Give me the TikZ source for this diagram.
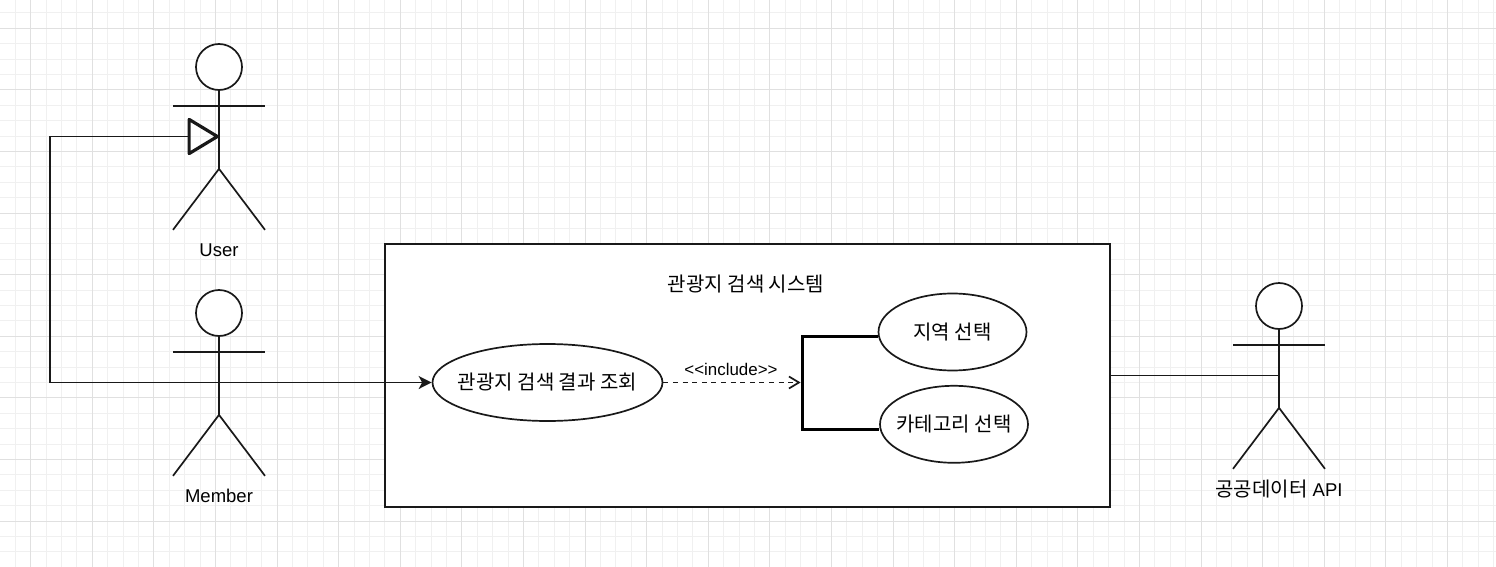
\documentclass[tikz,border=0pt]{standalone}
\usepackage{fontspec}
\setmainfont{Liberation Sans}
\newfontfamily\kr{Noto Sans CJK KR}
\usetikzlibrary{arrows.meta,shapes.geometric,calc}

\tikzset{
  minorgrid/.style={draw=black!6, line width=1pt},
  majorgrid/.style={draw=black!12, line width=1pt},
  actorline/.style={draw=black!90, line width=1.7pt},
  head/.style={circle, draw=black!90, line width=1.7pt, fill=white, minimum size=46pt, inner sep=0pt},
  actorlabel/.style={font=\fontsize{18.5}{22}\selectfont, inner sep=0pt},
  usecase/.style={ellipse, draw=black!90, line width=1.7pt, fill=white, inner sep=0pt},
  uctext/.style={font=\kr\fontsize{20}{24}\selectfont, inner sep=0pt},
  sysbox/.style={rectangle, draw=black!90, line width=1.7pt, fill=white, minimum width=725pt, minimum height=262.7pt, inner sep=0pt},
  genline/.style={draw=black!90, line width=1.7pt, -{Triangle[open, length=33pt, width=39pt, line width=3.2pt, round]}},
  assocline/.style={draw=black!90, line width=1.7pt, -{Stealth[length=13pt, width=13pt, inset=3.5pt]}},
  plainline/.style={draw=black!90, line width=1.7pt},
  includeline/.style={draw=black!90, line width=1.7pt, dash pattern=on 5pt off 4.6pt, -{Straight Barb[length=10pt, width=12pt, line width=1.7pt]}},
  bracketline/.style={draw=black, line width=3.2pt, line join=miter},
  smalllabel/.style={font=\fontsize{16.9}{20}\selectfont, inner sep=0pt}
}

\newcommand\umlactor[4]{%
  \node[head] (#1-head) at (#2,#3) {};
  \coordinate (#1) at (#2,#3+69.5);
  \draw[actorline] (#1-head.south) -- ++(0,78) coordinate (#1-hip);
  \draw[actorline] ($(#1-head)+(-46,39)$) -- ++(92,0);
  \draw[actorline] ($(#1-hip)+(-46,61)$) -- (#1-hip) -- ++(46,61);
  \node[actorlabel] (#1-label) at (#2,#3+183) {#4};
}

\begin{document}
\begin{tikzpicture}[x=1pt,y=-1pt]
\useasboundingbox (0,0) rectangle (1496,567);
\fill[white] (0,0) rectangle (1496,567);
% grid
\foreach \i in {0,...,97} \draw[minorgrid] ({-0.1+15.4*\i},0) -- ++(0,567);
\foreach \j in {0,...,36} \draw[minorgrid] (0,{12.9+15.4*\j}) -- ++(1496,0);
\foreach \i in {0,...,24} \draw[majorgrid] ({30.7+61.6*\i},0) -- ++(0,567);
\foreach \j in {0,...,8} \draw[majorgrid] (0,{28.3+61.6*\j}) -- ++(1496,0);

% system boundary
\node[sysbox] (sys) at (747.5,375.3) {};
\node[uctext] (systitle) at (746,284) {관광지 검색 시스템};

% use cases
\node[usecase, minimum width=230pt, minimum height=77pt] (uc1) at (547.5,382.5) {};
\node[uctext] (uc1t) at (uc1) {관광지 검색 결과 조회};
\node[usecase, minimum width=148pt, minimum height=77pt] (uc2) at (952.5,332) {};
\node[uctext] (uc2t) at (uc2) {지역 선택};
\node[usecase, minimum width=148pt, minimum height=77pt] (uc3) at (954,424.3) {};
\node[uctext] (uc3t) at (uc3) {카테고리 선택};

% bracket
\coordinate (bt) at (802.3,336.7);
\coordinate (bb) at (802.3,429.3);
\coordinate (br) at (800.6,382.5);
\draw[bracketline] (uc2.west |- bt) -- (bt) -- (bb) -- (uc3.west |- bb);

% actors
\umlactor{user}{219}{67}{User}
\umlactor{member}{219}{313}{Member}
\node[head] (api-head) at (1279,306) {};
\coordinate (api) at (1279,375.5);
\draw[actorline] (api-head.south) -- ++(0,78) coordinate (api-hip);
\draw[actorline] ($(api-head)+(-46,39)$) -- ++(92,0);
\draw[actorline] ($(api-hip)+(-46,61)$) -- (api-hip) -- ++(46,61);
\node[actorlabel] (api-label) at (1279,489) {{\kr\fontsize{20}{24}\selectfont 공공데이터} API};

% connectors
\coordinate (bend) at (50,382.5);
\draw[genline] (member) -- (bend) |- (user);
\draw[assocline] (member) -- (uc1.west);
\draw[includeline] (uc1.east) -- (br);
\node[smalllabel] (inclabel) at (731,369) {{<}{<}include{>}{>}};
\draw[plainline] (sys.east |- api) -- (api);
\end{tikzpicture}
\end{document}
